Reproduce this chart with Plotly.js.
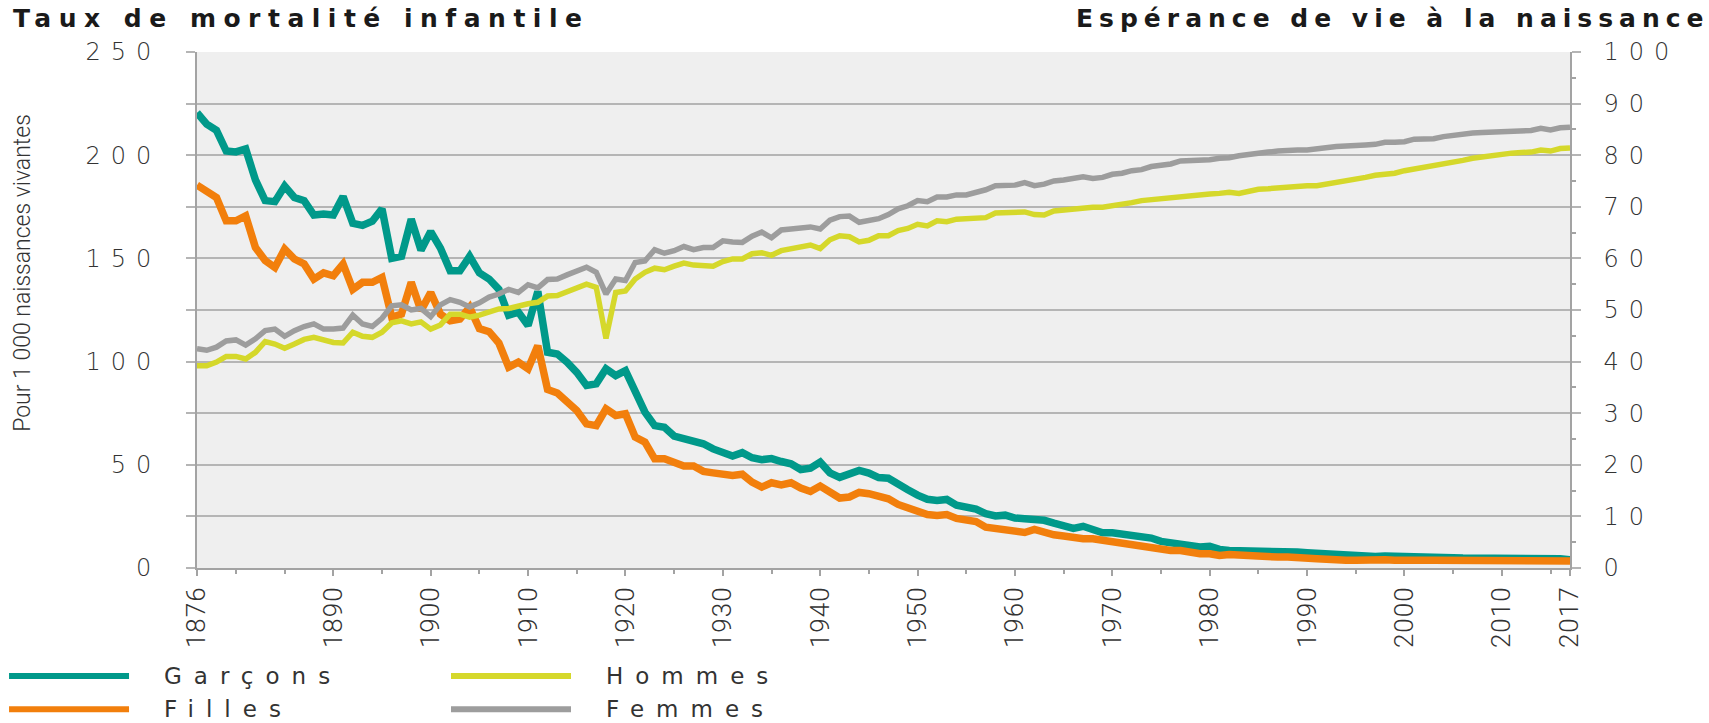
<!DOCTYPE html>
<html>
<head>
<meta charset="utf-8">
<script src="https://cdn.plot.ly/plotly-3.0.1.min.js"></script>
<style>
html,body{margin:0;padding:0;background:#fff;}
#chart{width:1709px;height:723px;}
</style>
</head>
<body>
<div id="chart"></div>
<script>
const years = [
  1876,1877,1878,1879,
  1880,1881,1882,1883,1884,1885,1886,1887,1888,1889,
  1890,1891,1892,1893,1894,1895,1896,1897,1898,1899,
  1900,1901,1902,1903,1904,1905,1906,1907,1908,1909,
  1910,1911,1912,1913,1914,1915,1916,1917,1918,1919,
  1920,1921,1922,1923,1924,1925,1926,1927,1928,1929,
  1930,1931,1932,1933,1934,1935,1936,1937,1938,1939,
  1940,1941,1942,1943,1944,1945,1946,1947,1948,1949,
  1950,1951,1952,1953,1954,1955,1956,1957,1958,1959,
  1960,1961,1962,1963,1964,1965,1966,1967,1968,1969,
  1970,1971,1972,1973,1974,1975,1976,1977,1978,1979,
  1980,1981,1982,1983,1984,1985,1986,1987,1988,1989,
  1990,1991,1992,1993,1994,1995,1996,1997,1998,1999,
  2000,2001,2002,2003,2004,2005,2006,2007,2008,2009,
  2010,2011,2012,2013,2014,2015,2016,2017
];

// Taux de mortalité infantile (pour 1 000 naissances vivantes)
const garcons = [
  220.6,215,212,202,
  201.6,203,188,178,177.5,185,179.5,178,171,171.5,
  171,180,167,166,168,174,150,151,169,154,
  163,155,144,144,151,143,140,135,122.5,124,
  117.5,134,104.5,103.7,99.7,94.8,88.4,89.2,96.5,93.2,
  95.6,85.2,75.5,69,68.2,63.9,62.9,61.8,60.2,57.7,
  55.8,54.2,55.9,53.4,52.5,53,51.6,50.5,47.7,48.4,
  51.3,46.1,43.9,45.4,47.3,46,43.8,43.5,40.3,37.9,
  35.3,33.3,32.7,33.2,30.4,29.3,28.5,26.3,25.2,25.6,
  24.2,23.9,23.5,23.1,21.7,20,19.2,20.2,18.2,17.1,
  17.1,16.6,15.5,15,14.5,12.9,12.1,11,10.2,10.2,
  10.5,9,8.5,8.5,8.1,8.1,7.7,7.7,8.1,7.7,
  7.4,7.1,6.8,6.1,5.8,5.8,5.6,5.6,5.8,5.8,
  5.8,5.3,5,5,5,5,4.8,4.8,4.8,5,
  4.5,4.5,4.5,4.8,4.8,4.8,4.5,4.0
];
const filles = [
  185.5,182,179.5,168.2,
  168.2,170.6,155.3,149,145.6,154.5,149.7,147.3,140,143,
  141.6,147.3,135,138.4,138.4,140.8,121.5,123,138.4,124.7,
  133.5,123,119.8,120.6,126.3,116,114.5,109,97.3,99.7,
  96.5,107.7,86.5,84.8,80,76.3,69.8,69,77.1,73.9,
  74.7,63.4,61,52.9,52.9,51.3,49.4,49.4,46.8,46.1,
  45.6,44.8,45.4,41.6,39.2,41.3,40.3,41.3,38.7,37.1,
  39.7,36.8,33.9,34.4,36.6,36,34.4,33.5,30.8,29.2,
  27,25.9,25.5,25.9,24,23.1,22.5,19.8,19,18.2,
  17.4,17.2,18.7,17.1,16.1,15.5,14.7,14.2,14.2,13.4,
  12.6,11.8,11,10.5,9.7,9,8.5,8.5,7.4,6.9,
  6.9,6.1,6.5,6.1,5.8,5.8,5.3,5.3,5.3,5.3,
  4.8,4.5,4.2,3.7,3.7,3.7,4,4.2,4,3.7,
  4,4,3.7,3.7,3.7,3.7,3.7,3.7,3.7,3.7,
  3.7,3.4,3.4,3.4,3.4,3.7,3.4,3.4
];

// Espérance de vie à la naissance (années)
const hommes = [
  39.2,39.2,39.9,41.0,
  41.0,40.5,41.8,43.9,43.4,42.6,43.4,44.3,44.7,44.3,
  43.7,43.6,45.7,44.9,44.7,45.7,47.5,47.9,47.3,47.7,
  46.3,47.1,49.2,49.2,48.6,49.0,49.7,50.2,50.3,50.8,
  51.2,51.5,52.7,52.8,53.5,54.3,55.0,54.4,44.5,53.4,
  53.7,56.0,57.3,58.1,57.8,58.5,59.1,58.7,58.7,58.5,
  59.4,59.9,59.9,60.9,61.1,60.6,61.5,61.9,62.4,62.6,
  61.9,63.6,64.4,64.2,63.2,63.5,64.4,64.4,65.4,65.8,
  66.6,66.3,67.3,67.1,67.6,67.7,67.7,67.9,68.8,68.9,
  68.9,69.0,68.5,68.4,69.2,69.4,69.5,69.7,69.9,69.9,
  70.2,70.3,70.8,71.2,71.4,71.5,71.8,72.1,72.1,72.3,
  72.5,72.6,72.8,72.6,73.1,73.4,73.5,73.7,73.9,73.9,
  74.1,74.1,74.4,74.7,75.0,75.2,75.7,76.1,76.3,76.5,
  77.0,77.3,77.6,77.9,78.4,78.7,79.0,79.4,79.7,80.0,
  80.2,80.4,80.5,80.6,81.0,80.8,81.3,81.4
];
const femmes = [
  42.5,42.2,42.8,44.0,
  44.2,43.2,44.4,46.0,46.3,44.9,46.0,46.8,47.3,46.3,
  46.3,46.5,49.0,47.3,46.8,48.4,50.8,51.0,50.0,50.3,
  48.7,51.0,52.0,51.5,50.6,51.4,52.5,53.1,54.0,53.4,
  54.9,54.3,55.9,56.0,56.8,57.5,58.3,57.3,53.1,56.0,
  55.7,59.2,59.5,61.7,61.0,61.5,62.3,61.7,62.1,62.1,
  63.4,63.2,63.1,64.3,65.1,64.0,65.5,65.7,65.9,66.1,
  65.7,67.4,68.1,68.2,67.0,67.3,67.7,68.5,69.6,70.2,
  71.2,71.0,71.9,71.9,72.3,72.3,72.8,73.3,74.1,74.2,
  74.2,74.7,74.1,74.4,75.0,75.2,75.5,75.8,75.5,75.7,
  76.3,76.5,77.0,77.2,77.8,78.1,78.3,78.9,78.9,79.0,
  79.1,79.4,79.5,79.9,80.2,80.3,80.6,80.8,81.0,81.0,
  81.0,81.3,81.5,81.7,81.8,81.8,82.0,82.1,82.5,82.5,
  82.6,83.1,83.1,83.2,83.6,83.9,84.0,84.3,84.4,84.5,
  84.6,84.7,84.7,84.8,85.2,84.9,85.3,85.4
];

const xTickVals = [1876,1890,1900,1910,1920,1930,1940,1950,1960,1970,1980,1990,2000,2010,2017];
const xTickText = ['1876','1890','1900','1910','1920','1930','1940','1950','1960','1970','1980','1990','2000','2010','2017'];
const leftTickVals = [0,25,50,75,100,125,150,175,200,225,250];
const leftTickText = ['0','','50','','100','','150','','200','','250'];
const rightTickVals = [0,10,20,30,40,50,60,70,80,90,100];
const rightTickText = ['0','10','20','30','40','50','60','70','80','90','100'];

const seriesNames = {garcons:'Garçons', filles:'Filles', hommes:'Hommes', femmes:'Femmes'};
const colors = {garcons:'#00998a', filles:'#f27f0c', hommes:'#d5d82b', femmes:'#9d9d9d'};

const sp = (t, ls) => '<span style="letter-spacing:' + ls + 'px">' + t + '</span>';
// letter-spaced text without trailing space after the last character
const spTight = (t, ls) => sp(t.slice(0, -1), ls) + t.slice(-1);

const traces = [
  {x: years, y: femmes, yaxis:'y2', name: seriesNames.femmes, mode:'lines', line:{color:colors.femmes, width:5.5}},
  {x: years, y: hommes, yaxis:'y2', name: seriesNames.hommes, mode:'lines', line:{color:colors.hommes, width:5.5}},
  {x: years, y: garcons, name: seriesNames.garcons, mode:'lines', line:{color:colors.garcons, width:7.5}},
  {x: years, y: filles, name: seriesNames.filles, mode:'lines', line:{color:colors.filles, width:7.5}}
];

const tickFont = {family:'DejaVu Sans', size:24, color:'#333333', weight:300};
const gridColor = '#b5b5b5';
const axisColor = '#a3a3a3';

const legendItems = [
  {key:'garcons', col:0, row:0},
  {key:'filles', col:0, row:1},
  {key:'hommes', col:1, row:0},
  {key:'femmes', col:1, row:1}
];
const legendCols = [{x0:-0.1369, x1:-0.0495, tx:-0.0255},{x0:0.185, x1:0.2724, tx:0.2964}];
const legendRows = [-0.2095, -0.2735];

const shapes = legendItems.map(it => ({
  type:'line', xref:'paper', yref:'paper',
  x0: legendCols[it.col].x0, x1: legendCols[it.col].x1,
  y0: legendRows[it.row], y1: legendRows[it.row],
  line:{color: colors[it.key], width:6}
}));

const annotations = legendItems.map(it => ({
  xref:'paper', yref:'paper', x: legendCols[it.col].tx, y: legendRows[it.row],
  xanchor:'left', yanchor:'middle', showarrow:false,
  text: spTight(seriesNames[it.key], 12),
  font:{family:'DejaVu Sans', size:23, color:'#333333'}
}));

annotations.push({
  xref:'paper', yref:'paper', x:0, y:1, xshift:-186, yshift:34,
  xanchor:'left', yanchor:'middle', showarrow:false,
  text: spTight('Taux de mortalité infantile', 7.5),
  font:{family:'DejaVu Sans', size:25, color:'#1a1a1a', weight:'bold'}
});
annotations.push({
  xref:'paper', yref:'paper', x:1, y:1, xshift:136, yshift:34,
  xanchor:'right', yanchor:'middle', showarrow:false,
  text: spTight('Espérance de vie à la naissance', 6),
  font:{family:'DejaVu Sans', size:25, color:'#1a1a1a', weight:'bold'}
});
annotations.push({
  xref:'paper', yref:'paper', x:0, y:0.572, xshift:-174,
  xanchor:'center', yanchor:'middle', showarrow:false, textangle:-90,
  text:'Pour 1 000 naissances vivantes',
  font:{family:'Roboto', size:23, color:'#333333', weight:300}
});

const layout = {
  width:1709, height:723,
  margin:{l:197, r:139, t:52, b:155, pad:0},
  paper_bgcolor:'#ffffff', plot_bgcolor:'#efefef',
  showlegend:false, hovermode:false,
  xaxis:{
    range:[1876,2017], tickmode:'array', tickvals:xTickVals, ticktext:xTickText.map(t => sp(t,1)),
    tickangle:-90, ticks:'outside', ticklen:6, tickwidth:2, tickcolor:axisColor,
    minor:{tickmode:'array', tickvals:[1880,1885,1895,1905,1915,1925,1935,1945,1955,1965,1975,1985,1995,2005,2015], ticks:'outside', ticklen:4, tickwidth:2, tickcolor:axisColor, showgrid:false},
    showgrid:false, zeroline:false, showline:true, linecolor:axisColor, linewidth:2,
    tickfont:{family:'Roboto', size:26, color:'#333333', weight:300}
  },
  yaxis:{
    range:[0,250], tickmode:'array', tickvals:leftTickVals, ticktext:leftTickText.map(t => sp(t,10)),
    ticks:'outside', ticklen:9, tickwidth:2, tickcolor:gridColor,
    showgrid:true, gridcolor:gridColor, gridwidth:2, zeroline:false,
    showline:true, linecolor:axisColor, linewidth:2,
    ticklabelstandoff:20, tickfont:tickFont
  },
  yaxis2:{
    range:[0,100], overlaying:'y', side:'right', tickmode:'array', tickvals:rightTickVals, ticktext:rightTickText.map(t => sp('\u00a0' + t,10)),
    ticks:'outside', ticklen:9, tickwidth:2, tickcolor:gridColor,
    minor:{tickmode:'array', tickvals:[5,15,25,35,45,55,65,75,85,95], ticks:'outside', ticklen:4, tickwidth:2, tickcolor:axisColor},
    showgrid:false, zeroline:false, showline:true, linecolor:axisColor, linewidth:2,
    tickfont:tickFont
  },
  shapes: shapes,
  annotations: annotations
};

Plotly.newPlot('chart', traces, layout, {staticPlot:true, displayModeBar:false});
</script>
</body>
</html>
